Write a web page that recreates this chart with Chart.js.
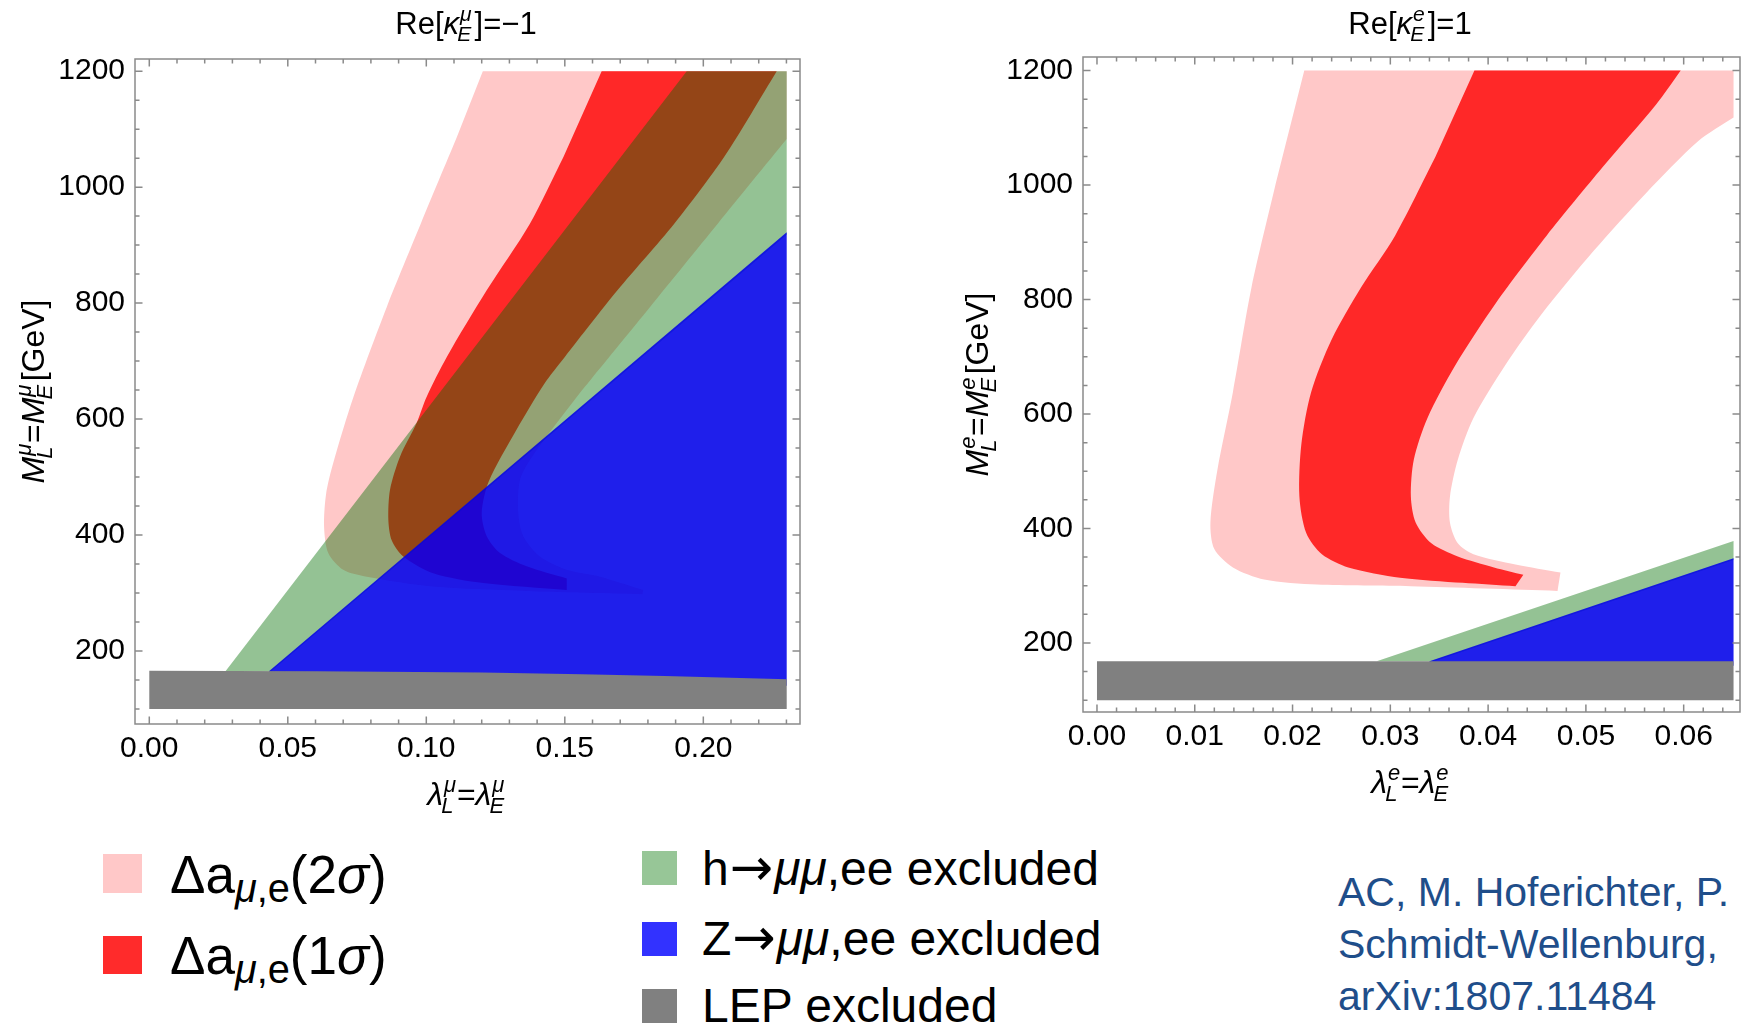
<!DOCTYPE html>
<html>
<head>
<meta charset="utf-8">
<script src="https://cdn.jsdelivr.net/npm/chart.js@4.4.0/dist/chart.umd.min.js"></script>
<style>
  html, body { margin: 0; padding: 0; background: #fff; }
  body { width: 1748px; height: 1028px; position: relative; overflow: hidden; font-family: "Liberation Sans", Arial, sans-serif; }
  canvas { position: absolute; top: 0; }
  #cMu { left: 0; }
  #cE { left: 920px; }
  .sw { position: absolute; }
  .lg { position: absolute; line-height: 1; white-space: nowrap; color: #000; }
  .sb { font-size: 0.75em; vertical-align: -9px; }
  .ar { font-family: "DejaVu Sans", sans-serif; font-size: 1.08em; line-height: 0; margin: 0 1px; }
  .cite { position: absolute; left: 1338px; top: 866px; font-size: 41px; line-height: 52px; color: #1f4e8a; white-space: nowrap; }
</style>
</head>
<body>
<canvas id="cMu" width="830" height="830"></canvas>
<canvas id="cE" width="828" height="830"></canvas>

<!-- legend -->
<div class="sw" style="left:103px;top:854px;width:39px;height:39px;background:#ffc8c8"></div>
<div class="lg" style="left:170px;top:848px;font-size:53px">Δa<span class="sb"><i>μ</i>,e</span>(2<i>σ</i>)</div>
<div class="sw" style="left:103px;top:936px;width:39px;height:38px;background:#ff2b2b"></div>
<div class="lg" style="left:170px;top:929px;font-size:53px">Δa<span class="sb"><i>μ</i>,e</span>(1<i>σ</i>)</div>

<div class="sw" style="left:642px;top:851px;width:35px;height:34px;background:#97c697"></div>
<div class="lg" style="left:702px;top:845px;font-size:48px">h<span class="ar">→</span><i>μμ</i>,ee excluded</div>
<div class="sw" style="left:642px;top:922px;width:35px;height:34px;background:#3232ff"></div>
<div class="lg" style="left:702px;top:915px;font-size:48px">Z<span class="ar">→</span><i>μμ</i>,ee excluded</div>
<div class="sw" style="left:642px;top:989px;width:35px;height:34px;background:#808080"></div>
<div class="lg" style="left:702px;top:982px;font-size:48px">LEP excluded</div>

<div class="cite">AC, M. Hoferichter, P.<br>Schmidt-Wellenburg,<br>arXiv:1807.11484</div>

<script>
const FONT = '"Liberation Sans", Arial, sans-serif';

// tick labels
const muXTicks = [0, 0.05, 0.10, 0.15, 0.20];
const eXTicks = [0, 0.01, 0.02, 0.03, 0.04, 0.05, 0.06];
const massTicks = [200, 400, 600, 800, 1000, 1200];

// region outlines, [lambda, M in GeV]
// left panel, Re[kappa_E^mu] = -1
const muSigma2 = [[0.1204,1200],[0.2301,1200],[0.2301,1083],[0.2052,937],[0.1807,793],[0.1592,667],[0.1543,638],
  [0.1386,538],[0.1338,495],[0.1332,438],[0.1350,398],[0.1410,363],[0.1507,340],[0.1627,328],[0.1783,305],
  [0.1780,298],[0.1386,303],[0.1025,311],[0.0785,328],[0.0700,340],[0.0646,369],[0.0631,414],[0.0638,470],
  [0.0664,524],[0.0737,638],[0.0857,793],[0.0980,937],[0.1110,1086]];
const muSigma1 = [[0.1633,1200],[0.2265,1200],[0.2075,1052],[0.1895,937],[0.1690,822],[0.1500,707],[0.1425,660],
  [0.1325,581],[0.1225,492],[0.1200,438],[0.1218,398],[0.1266,369],[0.1362,346],[0.1507,325],[0.1507,305],
  [0.1206,317],[0.1025,334],[0.0917,363],[0.0875,391],[0.0863,426],[0.0869,478],[0.0905,535],[0.0965,593],
  [0.1001,638],[0.1074,707],[0.1218,822],[0.1374,937],[0.1495,1052]];
const muHiggs = [[0.0275,165],[0.1940,1200],[0.2301,1200],[0.2301,918],[0.0440,165]];
const muZ = [[0.0432,165],[0.2301,922],[0.2301,140],[0.0432,140]];
const muLEP = [[0,100],[0,166],[0.06,165],[0.12,163],[0.156,160],[0.186,157],[0.2301,151],[0.2301,100]];

// right panel, Re[kappa_E^e] = 1
const eSigma2 = [[0.0212,1200],[0.0651,1200],[0.0651,1118],[0.0615,1077],[0.0561,985],[0.0508,885],[0.0455,775],
  [0.0417,684],[0.0385,593],[0.0369,520],[0.0361,456],[0.0361,410],[0.0369,374],[0.0385,355],[0.0428,337],
  [0.0474,323],[0.0471,291],[0.0321,299],[0.0225,302],[0.0171,311],[0.0139,332],[0.0120,364],[0.0116,410],
  [0.0123,501],[0.0139,638],[0.0158,821],[0.0183,1004]];
const eSigma1 = [[0.0386,1200],[0.0597,1200],[0.0572,1141],[0.0517,1031],[0.0460,912],[0.0408,794],[0.0366,684],
  [0.0338,593],[0.0324,520],[0.0321,456],[0.0326,410],[0.0342,374],[0.0369,351],[0.0406,332],[0.0436,319],
  [0.0428,299],[0.0374,305],[0.0310,314],[0.0257,332],[0.0230,355],[0.0214,392],[0.0207,456],[0.0209,547],
  [0.0219,638],[0.0240,730],[0.0270,821],[0.0305,912],[0.0346,1049]];
const eHiggs = [[0.0286,168],[0.0651,378],[0.0651,345],[0.0345,168]];
const eZ = [[0.0340,168],[0.0651,348],[0.0651,160],[0.0340,160]];
const eLEP = [[0,100],[0,168],[0.0651,168],[0.0651,100]];

// outline points that are real corners (kept sharp when the curves are smoothed)
const muSigma2Corners = [0, 1, 2, 14, 15];
const muSigma1Corners = [0, 1, 13, 14];
const eSigma2Corners = [0, 1, 2, 15, 16];
const eSigma1Corners = [0, 1, 14, 15];

// colours
const cPink = '#ffc8c8', cRed = '#ff2828', cGreen = 'rgba(0,110,0,0.42)', cBlue = 'rgba(0,0,232,0.88)', cGray = '#808080';

function steps(a, b, d) {
  const r = [];
  for (let v = a; v <= b + d / 1000; v += d) r.push(+v.toFixed(4));
  return r;
}

// closed filled outline; corner points are doubled so the spline stays sharp there
function region(pts, color, order, corners) {
  const data = [];
  pts.forEach((p, i) => {
    data.push({x: p[0], y: p[1]});
    if (corners && corners.includes(i)) data.push({x: p[0], y: p[1]});
  });
  return {
    data, showLine: true, fill: 'shape', tension: corners ? 0.28 : 0,
    backgroundColor: color, borderColor: 'transparent', borderWidth: 0,
    pointRadius: 0, pointHoverRadius: 0, order
  };
}

// text with stacked super/subscripts, centred on cx, baseline at base
function drawRich(ctx, runs, cx, base, B) {
  const S = Math.round(B * 0.68);
  const f = (it, size) => (it ? 'italic ' : '') + size + 'px ' + FONT;
  let w = 0;
  const items = runs.map(r => {
    ctx.font = f(r.it, B);
    const bw = ctx.measureText(r.t).width;
    let sw = 0;
    if (r.sub || r.sup) {
      ctx.font = f(true, S);
      sw = Math.max(r.sub ? ctx.measureText(r.sub).width : 0, r.sup ? ctx.measureText(r.sup).width : 0) + B * 0.05;
    }
    w += bw + sw;
    return {r, bw, sw};
  });
  let xx = cx - w / 2;
  ctx.textBaseline = 'alphabetic';
  ctx.textAlign = 'left';
  ctx.fillStyle = '#000';
  for (const {r, bw, sw} of items) {
    ctx.font = f(r.it, B);
    ctx.fillText(r.t, xx, base);
    xx += bw;
    if (sw) {
      ctx.font = f(true, S);
      if (r.sup) ctx.fillText(r.sup, xx + 1, base - B * 0.42);
      if (r.sub) ctx.fillText(r.sub, xx - B * 0.06, base + B * 0.24);
      xx += sw;
    }
  }
}

// frame, inward ticks on all four sides, titles
const panelDecor = {
  id: 'panelDecor',
  afterDraw(chart, args, o) {
    const {ctx, chartArea: a} = chart;
    const x = chart.scales.x, y = chart.scales.y;
    ctx.save();
    ctx.strokeStyle = '#8a8a8a';
    ctx.lineWidth = 1.5;
    ctx.strokeRect(a.left, a.top, a.right - a.left, a.bottom - a.top);
    ctx.beginPath();
    const xt = (vals, len) => vals.forEach(v => {
      const p = x.getPixelForValue(v);
      ctx.moveTo(p, a.bottom); ctx.lineTo(p, a.bottom - len);
      ctx.moveTo(p, a.top); ctx.lineTo(p, a.top + len);
    });
    const yt = (vals, len) => vals.forEach(v => {
      const p = y.getPixelForValue(v);
      ctx.moveTo(a.left, p); ctx.lineTo(a.left + len, p);
      ctx.moveTo(a.right, p); ctx.lineTo(a.right - len, p);
    });
    xt(o.xMinor, 4.5); xt(o.xMajor, 7.5);
    yt(o.yMinor, 4.5); yt(o.yMajor, 7.5);
    ctx.stroke();

    const cx = (a.left + a.right) / 2, cy = (a.top + a.bottom) / 2;
    drawRich(ctx, o.title, o.titleX, 34, 31);
    drawRich(ctx, o.xTitle, cx, a.bottom + 81, 32);
    ctx.translate(o.yTitleX, cy);
    ctx.rotate(-Math.PI / 2);
    drawRich(ctx, o.yTitle, 0, 0, 32);
    ctx.restore();
  }
};

function panel(id, d) {
  return new Chart(document.getElementById(id), {
    type: 'scatter',
    data: {
      datasets: [
        region(d.lep, cGray, 1),
        region(d.z, cBlue, 2),
        region(d.higgs, cGreen, 3),
        region(d.s1, cRed, 4, d.s1Corners),
        region(d.s2, cPink, 5, d.s2Corners)
      ]
    },
    options: {
      responsive: false,
      animation: false,
      devicePixelRatio: 1,
      layout: {padding: d.pad},
      events: [],
      plugins: {
        legend: {display: false},
        tooltip: {enabled: false},
        panelDecor: d.decor
      },
      scales: {
        x: {
          type: 'linear', position: 'bottom', min: d.xMin, max: d.xMax,
          grid: {display: false, drawTicks: false},
          border: {display: false},
          ticks: {
            color: '#000', padding: 7, maxRotation: 0, autoSkip: false,
            font: {family: FONT, size: 30},
            callback: v => v.toFixed(2)
          },
          afterBuildTicks: s => { s.ticks = d.xTicks.map(v => ({value: v})); },
          afterFit: s => { s.height = d.xAxisH; }
        },
        y: {
          type: 'linear', position: 'left', min: d.yMin, max: d.yMax,
          grid: {display: false, drawTicks: false},
          border: {display: false},
          ticks: {
            color: '#000', padding: 10, autoSkip: false,
            font: {family: FONT, size: 30},
            callback: v => String(v)
          },
          afterBuildTicks: s => { s.ticks = massTicks.map(v => ({value: v})); },
          afterFit: s => { s.width = d.yAxisW; }
        }
      }
    },
    plugins: [panelDecor]
  });
}

panel('cMu', {
  s2: muSigma2, s1: muSigma1, higgs: muHiggs, z: muZ, lep: muLEP,
  s2Corners: muSigma2Corners, s1Corners: muSigma1Corners,
  xMin: -0.00516, xMax: 0.2349, yMin: 74, yMax: 1221,
  xTicks: muXTicks,
  pad: {left: 0, top: 59, right: 30, bottom: 0},
  xAxisH: 106, yAxisW: 135,
  decor: {
    xMajor: muXTicks, xMinor: steps(0, 0.23, 0.01),
    yMajor: massTicks, yMinor: steps(100, 1200, 50),
    titleX: 466,
    title: [{t: 'Re['}, {t: 'κ', it: true, sub: 'E', sup: 'μ'}, {t: ']=−1'}],
    xTitle: [{t: 'λ', it: true, sub: 'L', sup: 'μ'}, {t: '='}, {t: 'λ', it: true, sub: 'E', sup: 'μ'}],
    yTitle: [{t: 'M', it: true, sub: 'L', sup: 'μ'}, {t: '='}, {t: 'M', it: true, sub: 'E', sup: 'μ'}, {t: '[GeV]'}],
    yTitleX: 44
  }
});

panel('cE', {
  s2: eSigma2, s1: eSigma1, higgs: eHiggs, z: eZ, lep: eLEP,
  s2Corners: eSigma2Corners, s1Corners: eSigma1Corners,
  xMin: -0.00143, xMax: 0.06576, yMin: 79.4, yMax: 1223.7,
  xTicks: eXTicks,
  pad: {left: 0, top: 57, right: 8, bottom: 0},
  xAxisH: 118, yAxisW: 163,
  decor: {
    xMajor: eXTicks, xMinor: steps(0, 0.064, 0.002),
    yMajor: massTicks, yMinor: steps(100, 1200, 50),
    titleX: 490,
    title: [{t: 'Re['}, {t: 'κ', it: true, sub: 'E', sup: 'e'}, {t: ']=1'}],
    xTitle: [{t: 'λ', it: true, sub: 'L', sup: 'e'}, {t: '='}, {t: 'λ', it: true, sub: 'E', sup: 'e'}],
    yTitle: [{t: 'M', it: true, sub: 'L', sup: 'e'}, {t: '='}, {t: 'M', it: true, sub: 'E', sup: 'e'}, {t: '[GeV]'}],
    yTitleX: 68
  }
});
</script>
</body>
</html>
